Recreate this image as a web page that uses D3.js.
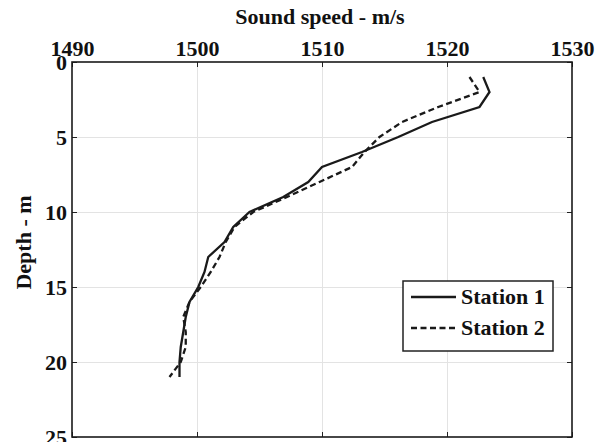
<!DOCTYPE html>
<html><head><meta charset="utf-8">
<script src="https://cdn.jsdelivr.net/npm/d3@7/dist/d3.min.js"></script>
<style>
body{margin:0;background:#fff;}
text{font-family:"Liberation Serif","Times New Roman",serif;font-weight:bold;fill:#111;}
</style></head>
<body>
<script>
const depths = [1,2,3,4,5,6,7,8,9,10,11,12,13,14,15,16,17,18,19,20,21];
const station1 = [1522.9,1523.4,1522.6,1518.8,1516.1,1513.2,1510.0,1508.9,1506.9,1504.2,1502.9,1502.2,1500.9,1500.6,1500.1,1499.4,1499.1,1498.9,1498.7,1498.6,1498.6];
const station2 = [1521.8,1522.6,1519.3,1516.4,1514.6,1513.4,1512.4,1509.8,1507.2,1504.5,1503.0,1502.3,1501.8,1501.1,1500.3,1499.4,1498.9,1499.1,1499.1,1498.7,1497.8];
const seriesNames = ["Station 1","Station 2"];
const xTicks = [1490,1500,1510,1520,1530];
const yTicks = [0,5,10,15,20,25];
const xTitle = "Sound speed - m/s";
const yTitle = "Depth - m";

const W=602,H=442;
const L=72,R=572,T=62,B=437;
const svg=d3.select("body").append("svg").attr("width",W).attr("height",H);
const x=d3.scaleLinear().domain([1490,1530]).range([L,R]);
const y=d3.scaleLinear().domain([0,25]).range([T,B]);
const FF="Liberation Serif";

// grid
svg.append("g").attr("transform",`translate(0,${T})`)
  .call(d3.axisBottom(x).tickValues(xTicks.slice(1,-1)).tickSize(B-T).tickFormat(""))
  .call(g=>{g.select(".domain").remove();g.selectAll("line").attr("stroke","#e3e3e3").attr("stroke-width",1);});
svg.append("g").attr("transform",`translate(${L},0)`)
  .call(d3.axisRight(y).tickValues(yTicks.slice(1,-1)).tickSize(R-L).tickFormat(""))
  .call(g=>{g.select(".domain").remove();g.selectAll("line").attr("stroke","#e3e3e3").attr("stroke-width",1);});

// axes
const fs="22px";
const ax=svg.append("g").attr("transform",`translate(0,${T})`)
  .call(d3.axisTop(x).tickValues(xTicks).tickSizeInner(-5).tickSizeOuter(0).tickPadding(6).tickFormat(d3.format("d")));
ax.select(".domain").remove();
ax.selectAll("text").style("font-size",fs).attr("fill","#111").style("font-family",FF).style("font-weight","bold");
ax.selectAll("line").attr("stroke","#222");
const ay=svg.append("g").attr("transform",`translate(${L},0)`)
  .call(d3.axisLeft(y).tickValues(yTicks).tickSizeInner(-5).tickSizeOuter(0).tickPadding(5).tickFormat(d3.format("d")));
ay.select(".domain").remove();
ay.selectAll("text").style("font-size",fs).attr("fill","#111").style("font-family",FF).style("font-weight","bold");
ay.selectAll("line").attr("stroke","#222");
const ab=svg.append("g").attr("transform",`translate(0,${B})`)
  .call(d3.axisBottom(x).tickValues(xTicks).tickSizeInner(-5).tickSizeOuter(0).tickFormat(""));
ab.select(".domain").remove(); ab.selectAll("line").attr("stroke","#222");
const ar=svg.append("g").attr("transform",`translate(${R},0)`)
  .call(d3.axisRight(y).tickValues(yTicks).tickSizeInner(-5).tickSizeOuter(0).tickFormat(""));
ar.select(".domain").remove(); ar.selectAll("line").attr("stroke","#222");

// box
svg.append("rect").attr("x",L).attr("y",T).attr("width",R-L).attr("height",B-T)
  .attr("fill","none").attr("stroke","#1a1a1a").attr("stroke-width",1.6);

// lines
const line=d3.line().x(d=>x(d[0])).y(d=>y(d[1]));
svg.append("path").datum(depths.map((d,i)=>[station1[i],d])).attr("d",line)
  .attr("fill","none").attr("stroke","#1a1a1a").attr("stroke-width",2.3);
svg.append("path").datum(depths.map((d,i)=>[station2[i],d])).attr("d",line)
  .attr("fill","none").attr("stroke","#1a1a1a").attr("stroke-width",2.3).attr("stroke-dasharray","6,3.5");

// titles
svg.append("text").attr("x",(L+R)/2-2).attr("y",24).attr("text-anchor","middle").style("font-size",fs).style("font-family",FF).text(xTitle);
svg.append("text").attr("transform",`translate(31,${(T+B)/2-7}) rotate(-90)`).attr("text-anchor","middle").style("font-size",fs).style("font-family",FF).text(yTitle);

// legend
const lg=svg.append("g");
lg.append("rect").attr("x",403).attr("y",281).attr("width",150).attr("height",70)
  .attr("fill","#fff").attr("stroke","#222").attr("stroke-width",1.5);
const rows=[{name:seriesNames[0],dash:null,yy:297},{name:seriesNames[1],dash:"6,3.5",yy:328}];
rows.forEach(r=>{
  lg.append("line").attr("x1",411).attr("x2",456).attr("y1",r.yy).attr("y2",r.yy)
    .attr("stroke","#1a1a1a").attr("stroke-width",2.3).attr("stroke-dasharray",r.dash);
  lg.append("text").attr("x",461).attr("y",r.yy+7).style("font-size",fs).style("font-family",FF).text(r.name);
});
</script>
</body></html>
